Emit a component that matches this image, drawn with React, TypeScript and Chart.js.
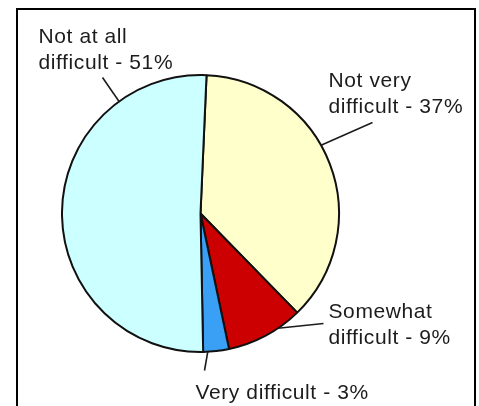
import React, { useEffect, useRef } from "react";
import { Chart, registerables } from "chart.js";

Chart.register(...registerables);

const categories = [
  "Not very difficult",
  "Somewhat difficult",
  "Very difficult",
  "Not at all difficult",
];
const percentages = [37, 9, 3, 51];
const labelLines = [
  ["Not very", "difficult - 37%"],
  ["Somewhat", "difficult - 9%"],
  ["Very difficult - 3%"],
  ["Not at all", "difficult - 51%"],
];
const sliceColors = ["#FFFFCC", "#CC0000", "#3AA0F5", "#CCFFFF"];

// label layout relative to pie centre (pixels): arc angle of leader, leader end, text start
const labelLayout = [
  { angle: 60.5, end: [172, -91], text: [128, -127] },
  { angle: 146, end: [123, 110], text: [128, 104] },
  { angle: 177, end: [4, 157], text: [-5, 185] },
  { angle: -36, end: [-98, -136], text: [-162, -171] },
];

const labelPlugin = {
  id: "calloutLabels",
  afterDatasetsDraw(chart: any) {
    const ctx = chart.ctx as CanvasRenderingContext2D;
    const meta = chart.getDatasetMeta(0);
    ctx.save();
    meta.data.forEach((arc: any, i: number) => {
      const { x, y, outerRadius } = arc.getProps(["x", "y", "outerRadius"], true);
      const lay = labelLayout[i];
      const a = (lay.angle * Math.PI) / 180;
      const sx = x + Math.sin(a) * outerRadius;
      const sy = y - Math.cos(a) * outerRadius;
      ctx.strokeStyle = "#1c1c1c";
      ctx.lineWidth = 1.6;
      ctx.beginPath();
      ctx.moveTo(sx, sy);
      ctx.lineTo(x + lay.end[0], y + lay.end[1]);
      ctx.stroke();
      ctx.fillStyle = "#1c1c1c";
      ctx.font = '21px "Liberation Sans", Arial, sans-serif';
      (ctx as any).letterSpacing = "0.6px";
      ctx.textAlign = "left";
      ctx.textBaseline = "alphabetic";
      labelLines[i].forEach((line, j) => {
        ctx.fillText(line, x + lay.text[0], y + lay.text[1] + j * 26);
      });
    });
    ctx.restore();
  },
};

export default function App() {
  const ref = useRef<HTMLCanvasElement>(null);
  useEffect(() => {
    const chart = new Chart(ref.current!, {
      type: "pie",
      data: {
        labels: categories,
        datasets: [
          {
            data: percentages,
            backgroundColor: sliceColors,
            borderColor: "#111111",
            borderWidth: 2,
          },
        ],
      },
      options: {
        responsive: false,
        animation: false,
        rotation: 2.5,
        layout: { padding: { left: 43, right: 134, top: 64, bottom: 67 } },
        plugins: {
          legend: { display: false },
          tooltip: { enabled: false },
        },
      },
      plugins: [labelPlugin],
    });
    return () => chart.destroy();
  }, []);
  return (
    <>
      <style>{"html,body{margin:0;padding:0;overflow:hidden;}"}</style>
      <div
        style={{
          width: 479,
          height: 406,
          overflow: "hidden",
          paddingTop: 8,
          paddingLeft: 16,
          boxSizing: "border-box",
        }}
      >
        <div
          style={{
            border: "2px solid #000",
            width: 456,
            height: 420,
            boxSizing: "content-box",
          }}
        >
          <canvas ref={ref} width={456} height={410} style={{ display: "block" }} />
        </div>
      </div>
    </>
  );
}
